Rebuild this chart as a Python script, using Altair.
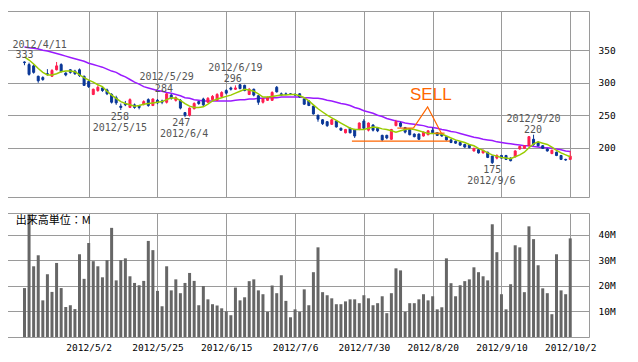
import altair as alt
import pandas as pd

# ---------------- data ----------------
opens = [332, 328, 326, 310, 308, 314, 310, 320, 328, 315,
         320, 318, 320, 310, 302, 282, 288, 292, 289, 282,
         277, 264, 268, 262, 266, 264, 267, 274, 265, 273,
         272, 270, 281, 273, 273, 254, 250, 260, 271, 275,
         270, 274, 273, 279, 288, 292, 290, 297, 296, 282,
         290, 280, 270, 273, 273, 293, 283, 283, 283, 282,
         283, 275, 272, 264, 250, 243, 240, 236, 241, 230,
         223, 230, 228, 228, 241, 227, 235, 230, 219, 219,
         213, 234, 238, 231, 228, 221, 221, 218, 220, 227,
         223, 221, 217, 212, 210, 208, 205, 204, 195, 197,
         192, 193, 187, 184, 188, 188, 184, 186, 198, 199,
         203, 213, 208, 203, 198, 191, 193, 188, 182, 182]
highs = [333, 331, 328, 311, 310, 321, 321, 332, 330, 316,
         321, 320, 322, 311, 304, 291, 296, 294, 291, 284,
         280, 268, 272, 276, 268, 266, 273, 276, 276, 275,
         274, 284, 283, 279, 275, 255, 262, 270, 272, 277,
         278, 281, 284, 287, 290, 294, 296, 298, 297, 292,
         291, 281, 276, 279, 287, 295, 285, 285, 284, 284,
         284, 276, 273, 265, 251, 244, 241, 244, 242, 231,
         229, 231, 229, 239, 244, 239, 236, 231, 220, 220,
         229, 243, 240, 232, 229, 222, 222, 225, 227, 231,
         224, 222, 218, 213, 211, 209, 206, 205, 200, 198,
         197, 194, 188, 190, 189, 189, 185, 196, 203, 204,
         218, 220, 210, 204, 199, 197, 194, 189, 183, 195]
lows = [327, 311, 314, 300, 303, 311, 309, 319, 316, 310,
        314, 312, 309, 295, 292, 281, 286, 286, 281, 268,
        266, 258, 264, 261, 260, 259, 265, 263, 264, 267,
        267, 268, 274, 271, 259, 247, 248, 259, 266, 264,
        269, 273, 272, 278, 282, 288, 289, 290, 287, 281,
        279, 266, 268, 272, 272, 285, 280, 281, 281, 280,
        277, 266, 264, 251, 240, 235, 232, 235, 231, 226,
        222, 222, 215, 227, 228, 225, 225, 224, 210, 213,
        212, 233, 231, 222, 219, 216, 212, 217, 219, 222,
        218, 217, 211, 207, 206, 203, 200, 199, 194, 191,
        191, 184, 175, 182, 183, 181, 179, 185, 197, 198,
        202, 203, 202, 198, 194, 190, 187, 181, 180, 181]
closes = [331, 313, 316, 303, 305, 313, 319, 326, 317, 312,
          316, 314, 311, 296, 294, 290, 293, 288, 283, 270,
          269, 262, 266, 274, 262, 262, 271, 265, 275, 269,
          270, 283, 276, 277, 261, 250, 261, 268, 268, 266,
          276, 279, 282, 285, 284, 290, 292, 291, 288, 290,
          281, 270, 275, 277, 285, 286, 281, 282, 282, 281,
          278, 267, 265, 252, 244, 237, 234, 243, 232, 227,
          228, 223, 218, 238, 230, 238, 227, 226, 212, 215,
          228, 240, 233, 224, 220, 217, 213, 224, 226, 223,
          219, 218, 212, 208, 207, 204, 201, 200, 199, 192,
          196, 185, 177, 188, 184, 182, 180, 195, 202, 203,
          217, 205, 203, 199, 195, 196, 188, 182, 181, 187]
volumes = [19.1, 47.9, 27.6, 31.9, 14.3, 24.5, 17.6, 28.9, 19.1, 11.7,
           12.4, 10.9, 32.3, 22.7, 36.7, 29.6, 27.6, 23.3, 30.0, 42.6,
           22.1, 30.0, 30.7, 23.7, 21.1, 20.2, 21.9, 37.5, 33.9, 18.0,
           12.0, 27.6, 18.2, 22.5, 17.1, 21.1, 25.0, 21.9, 12.4, 19.9,
           14.7, 12.8, 12.3, 11.2, 10.0, 8.5, 19.3, 14.3, 15.5, 21.8,
           22.5, 18.2, 16.7, 9.8, 20.1, 17.1, 24.1, 14.1, 7.7, 10.8,
           9.8, 18.6, 12.4, 25.3, 35.0, 17.5, 16.3, 15.1, 12.8, 12.8,
           13.9, 14.7, 14.7, 13.2, 16.3, 15.1, 12.4, 13.2, 15.9, 9.3,
           17.1, 26.8, 26.0, 9.8, 13.2, 13.2, 14.7, 16.7, 14.3, 15.9,
           10.8, 11.6, 30.7, 21.0, 15.9, 20.2, 21.8, 22.5, 27.2, 25.3,
           23.7, 22.1, 44.0, 33.1, 16.7, 10.8, 20.6, 35.8, 35.0, 17.5,
           43.2, 38.2, 28.0, 19.0, 17.1, 8.9, 32.3, 18.2, 16.7, 38.5]
ma_short = [340, 335, 329, 322, 316, 312, 312, 314, 317, 318,
            318, 317, 312, 308, 304, 301, 297, 294, 287, 281,
            276, 271, 268, 266, 264, 265, 267, 268, 269, 270,
            271, 274, 277, 276, 273, 268, 264, 262, 262, 263,
            267, 272, 275, 277, 279, 281, 284, 287, 290, 289,
            287, 283, 278, 278, 279, 280, 281, 281, 282, 282,
            280, 277, 272, 266, 260, 255, 250, 246, 242, 238,
            234, 230, 228, 228, 228, 230, 232, 231, 229, 228,
            226, 224, 226, 228, 229, 228, 226, 224, 222, 222,
            222, 221, 218, 215, 212, 210, 208, 205, 203, 199,
            196, 192, 189, 187, 185, 184, 183, 186, 189, 193,
            200, 206, 209, 207, 205, 201, 196, 192, 189, 186]
ma_long = [355, 354, 353, 352, 350, 349, 347, 345, 343, 341,
           339, 337, 335, 333, 330, 328, 326, 324, 321, 318,
           316, 312, 309, 305, 301, 298, 294, 292, 290, 288,
           287, 285, 284, 282, 280, 277, 276, 274, 273, 272,
           272, 272, 272, 272, 272, 272, 273, 274, 274, 275,
           275, 276, 276, 277, 277, 277, 278, 278, 278, 278,
           278, 277, 277, 276, 276, 275, 273, 272, 270, 268,
           267, 265, 262, 260, 257, 255, 253, 250, 248, 245,
           243, 241, 240, 238, 237, 236, 235, 234, 232, 231,
           230, 228, 227, 225, 224, 222, 220, 218, 216, 215,
           213, 212, 211, 209, 208, 207, 206, 205, 204, 203,
           203, 202, 201, 200, 200, 199, 198, 197, 195, 194]

tick_idx = [14, 29, 44, 59, 74, 89, 104, 119]
tick_labels = ["2012/5/2", "2012/5/25", "2012/6/15", "2012/7/6",
               "2012/7/30", "2012/8/20", "2012/9/10", "2012/10/2"]
price_ticks = [200, 250, 300, 350]
vol_ticks = [10, 20, 30, 40]

# first annotation is left-aligned at the panel edge, the rest are centred
edge_text = ["2012/4/11"]
edge_i = [-2.6]
edge_p = [358.2]
ann_text = ["333", "2012/5/29", "284", "258", "2012/5/15",
            "247", "2012/6/4", "2012/6/19", "296", "2012/9/20", "220",
            "175", "2012/9/6"]
ann_i = [0.0, 31.0, 30.4, 20.8, 20.8, 34.2, 34.8, 46.0, 45.4,
         111.0, 110.9, 102.0, 101.8]
ann_p = [342.8, 308.9, 290.4, 247.2, 230.3, 238.5, 220.6, 322.7,
         305.8, 244.7, 227.7, 165.7, 148.7]

sell_seg = ["base", "base", "left", "left", "peak", "peak", "peak", "right", "right"]
sell_ord = [0, 1, 0, 1, 0, 1, 2, 0, 1]
sell_i = [71.4, 92.8, 81.3, 84.8, 84.8, 87.9, 90.9, 89.4, 91.6]
sell_p = [210.0, 210.0, 230.2, 230.2, 230.2, 262.7, 222.4, 222.4, 222.4]
sell_label = ["SELL"]
sell_label_i = [88.6]
sell_label_p = [280.4]

unit_label = ["出来高単位：M"]

# ---------------- styling ----------------
RED = "#ff1f50"
BLUE = "#0a3797"
GREEN = "#99cc00"
PURPLE = "#9a1aff"
ORANGE = "#ff6600"
GRID = "#9a9a9a"
MONO = "DejaVu Sans Mono"

n = len(closes)
direction = ["up" if c > o else "down" for o, c in zip(opens, closes)]
df = pd.DataFrame({
    "i": list(range(n)), "open": opens, "high": highs, "low": lows,
    "close": closes, "vol": volumes, "ma_s": ma_short, "ma_l": ma_long,
    "dir": direction,
})
ann_df = pd.DataFrame({"t": ann_text, "i": ann_i, "p": ann_p})
edge_df = pd.DataFrame({"t": edge_text, "i": edge_i, "p": edge_p})
sell_df = pd.DataFrame({"seg": sell_seg, "ord": sell_ord, "i": sell_i, "p": sell_p})
sell_lbl_df = pd.DataFrame({"t": sell_label, "i": sell_label_i, "p": sell_label_p})
unit_df = pd.DataFrame({"t": unit_label, "i": [-1.9], "v": [45.2]})

xs = alt.Scale(domain=[-2.72, 122], nice=False, zero=False)
ys = alt.Scale(domain=[124.1, 410.5], nice=False, zero=False)
vs = alt.Scale(domain=[0, 48.4], nice=False, zero=False)

label_expr = ("[" + ",".join("'%s'" % s for s in tick_labels) + "][indexof(["
              + ",".join(str(v) for v in tick_idx) + "], datum.value)]")

x_top_axis = alt.Axis(values=tick_idx, labels=False, ticks=False, domain=False,
                      grid=True, title=None)
x_bot_axis = alt.Axis(values=tick_idx, labelExpr=label_expr, ticks=False,
                      domain=False, grid=True, title=None, labelPadding=5,
                      labelFlush=False, labelAngle=0)
y_top_axis = alt.Axis(orient="right", values=price_ticks, ticks=False,
                      domain=False, grid=True, title=None, labelPadding=9)
y_vol_axis = alt.Axis(orient="right", values=vol_ticks, ticks=False,
                      domain=False, grid=True, title=None, labelPadding=9,
                      labelExpr="datum.value + 'M'")

def XT():
    return alt.X("i:Q", scale=xs, axis=x_top_axis)

def YT(f):
    return alt.Y(f, scale=ys, axis=y_top_axis)

dir_scale = alt.Scale(domain=["up", "down"], range=[RED, BLUE])
color = alt.Color("dir:N", scale=dir_scale, legend=None)

base = alt.Chart(df)
wick = base.mark_rule(strokeWidth=1).encode(x=XT(), y=YT("low:Q"), y2="high:Q", color=color)
body = base.mark_bar(size=2, strokeWidth=1).encode(
    x=XT(), y=YT("open:Q"), y2="close:Q", color=color,
    stroke=alt.Stroke("dir:N", scale=dir_scale, legend=None))
ma_l_line = base.mark_line(color=PURPLE, strokeWidth=1.5).encode(x=XT(), y=YT("ma_l:Q"))
ma_s_line = base.mark_line(color=GREEN, strokeWidth=1.5).encode(x=XT(), y=YT("ma_s:Q"))
sell_lines = alt.Chart(sell_df).mark_line(color=ORANGE, strokeWidth=1.2).encode(
    x=XT(), y=YT("p:Q"), detail="seg:N", order="ord:Q")
sell_text = alt.Chart(sell_lbl_df).mark_text(
    color=ORANGE, font="Liberation Sans", fontSize=17, align="center", baseline="middle").encode(
    x=XT(), y=YT("p:Q"), text="t:N")
ann = alt.Chart(ann_df).mark_text(
    color="#555555", font=MONO, fontSize=10, align="center", baseline="middle").encode(
    x=XT(), y=YT("p:Q"), text="t:N")
ann_edge = alt.Chart(edge_df).mark_text(
    color="#555555", font=MONO, fontSize=10, align="left", baseline="middle").encode(
    x=XT(), y=YT("p:Q"), text="t:N")

top = alt.layer(ma_l_line, wick, body, ma_s_line, sell_lines, sell_text, ann, ann_edge).properties(
    width=582, height=186)

vbars = base.mark_bar(size=3, color="#666666").encode(
    x=alt.X("i:Q", scale=xs, axis=x_bot_axis),
    y=alt.Y("vol:Q", scale=vs, axis=y_vol_axis))
unit = alt.Chart(unit_df).mark_text(
    color="#000000", font="Noto Sans CJK JP", fontSize=11, align="left", baseline="middle").encode(
    x=alt.X("i:Q", scale=xs, axis=x_bot_axis),
    y=alt.Y("v:Q", scale=vs, axis=y_vol_axis), text="t:N")
bottom = alt.layer(vbars, unit).properties(width=582, height=124)

chart = alt.vconcat(top, bottom, spacing=14).properties(
    padding={"left": -2, "top": 2, "right": 4, "bottom": 4},
    background="white",
).configure_view(
    stroke=GRID, strokeWidth=1
).configure_axis(
    gridColor=GRID, gridWidth=1, gridOpacity=1, labelColor="#000000",
    labelFont=MONO, labelFontSize=9.5
)

chart.save("out.html", embed_options={"renderer": "svg", "actions": False})
